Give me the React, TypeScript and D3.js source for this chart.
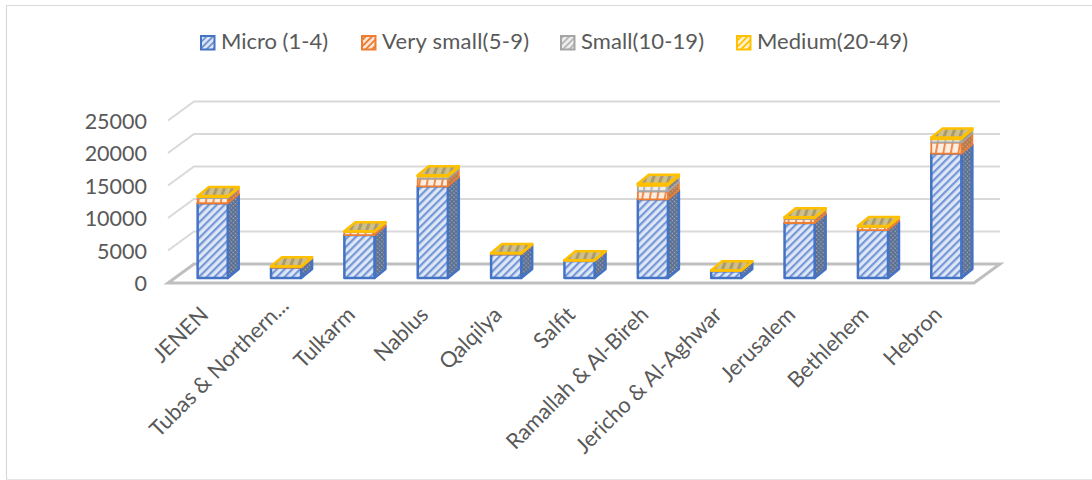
import React from "react";
import * as d3 from "d3";

// Establishments by governorate and size class
const governorates = [
  "JENEN",
  "Tubas & Northern...",
  "Tulkarm",
  "Nablus",
  "Qalqilya",
  "Salfit",
  "Ramallah & Al-Bireh",
  "Jericho & Al-Aghwar",
  "Jerusalem",
  "Bethlehem",
  "Hebron",
];
const micro = [11500, 1600, 6600, 14100, 3650, 2600, 12100, 1050, 8460, 7380, 19150];
const verySmall = [800, 100, 450, 1200, 120, 90, 1250, 80, 650, 450, 1700];
const small = [200, 60, 100, 350, 50, 40, 900, 40, 150, 100, 550];
const medium = [100, 40, 50, 150, 30, 20, 250, 30, 90, 70, 200];
const sizeClasses = ["Micro (1-4)", "Very small(5-9)", "Small(10-19)", "Medium(20-49)"];
const seriesValues = [micro, verySmall, small, medium];
const yTicks = [0, 5000, 10000, 15000, 20000, 25000];

const strokes = ["#4472c4", "#ed7d31", "#a5a5a5", "#ffc000"];
const legendX = [200, 361, 560, 736];
const legendTextWidth = [107, 147, 123, 151];

const WIDTH = 1092;
const HEIGHT = 480;
const DEPTH_X = 11;
const DEPTH_Y = 9;
const WALL_X = 26;
const WALL_Y = 19;
const INK = "#595959";

const rows = governorates.map((name, i) => {
  const row: Record<string, number | string> = { name };
  sizeClasses.forEach((s, k) => (row[s] = seriesValues[k][i]));
  return row;
});
const stacked = d3.stack<any>().keys(sizeClasses)(rows);

const x = d3.scaleBand<string>().domain(governorates).range([176, 983]).paddingInner(0.59).paddingOuter(0.295);
const y = d3.scaleLinear().domain([0, 25000]).range([278, 115.5]);
const floorY = 283;

function Hatch({ id, bg, fg, size, w, angle }: { id: string; bg: string; fg: string; size: number; w: number; angle: number }) {
  return (
    <pattern id={id} width={size} height={size} patternUnits="userSpaceOnUse" patternTransform={`rotate(${angle})`}>
      <rect width={size} height={size} fill={bg} />
      <rect width={w} height={size} fill={fg} />
    </pattern>
  );
}

function Dots({ id, bg, fg }: { id: string; bg: string; fg: string }) {
  return (
    <pattern id={id} width={3} height={3} patternUnits="userSpaceOnUse" patternTransform="rotate(45)">
      <rect width={3} height={3} fill={bg} />
      <circle cx={1.5} cy={1.5} r={0.8} fill={fg} />
    </pattern>
  );
}

export default function App() {
  const bw = x.bandwidth();
  return (
    <svg
      width={WIDTH}
      height={HEIGHT}
      style={{ position: "absolute", left: 0, top: 0, background: "#fff" }}
      fontFamily="Lato, sans-serif"
    >
      <defs>
        <Hatch id="front-0" bg="#dfe7f6" fg="#7397d6" size={5.5} w={2.2} angle={45} />
        <Hatch id="front-1" bg="#fdeee3" fg="#ef8a47" size={7.4} w={2} angle={10} />
        <Hatch id="front-2" bg="#ececec" fg="#b4b4b4" size={7.4} w={2} angle={10} />
        <Hatch id="front-3" bg="#fff2cc" fg="#ffc000" size={7.4} w={2} angle={10} />
        <Dots id="side-0" bg="#5c6f8f" fg="#a4afc0" />
        <Dots id="side-1" bg="#b5764a" fg="#e0ad88" />
        <Dots id="side-2" bg="#808080" fg="#b8b8b8" />
        <Dots id="side-3" bg="#a8913f" fg="#d4bd6a" />
        <Hatch id="top-3" bg="#cfc08a" fg="#a89a6c" size={7.4} w={3} angle={20} />
        <Hatch id="swatch-0" bg="#dbe5f5" fg="#6f94d4" size={4.5} w={1.8} angle={45} />
        <Hatch id="swatch-1" bg="#fbe5d6" fg="#ed7d31" size={4.5} w={1.8} angle={45} />
        <Hatch id="swatch-2" bg="#ededed" fg="#b5b5b5" size={4.5} w={1.8} angle={45} />
        <Hatch id="swatch-3" bg="#fff2cc" fg="#ffc000" size={4.5} w={1.8} angle={45} />
      </defs>

      {/* outer frame */}
      <path d={`M6.5 480V5.5H${WIDTH}`} fill="none" stroke="#d9d9d9" strokeWidth={1.2} />
      <line x1={6} x2={WIDTH} y1={479.5} y2={479.5} stroke="#e4e4e4" strokeWidth={1.2} />

      {/* legend */}
      {sizeClasses.map((s, k) => (
        <g key={s}>
          <rect
            x={legendX[k] + 1}
            y={36}
            width={13.5}
            height={13.5}
            fill={`url(#swatch-${k})`}
            stroke={strokes[k]}
            strokeWidth={2}
          />
          <text
            x={legendX[k] + 21}
            y={49}
            fontSize={22}
            fill={INK}
            textLength={legendTextWidth[k]}
            lengthAdjust="spacing"
          >
            {s}
          </text>
        </g>
      ))}

      {/* back wall gridlines with their slanted side-wall returns */}
      {yTicks.slice(1).map((t) => {
        const gy = y(t) - 14;
        return (
          <path
            key={t}
            d={`M${168} ${gy + WALL_Y}L${168 + WALL_X} ${gy}H1000`}
            fill="none"
            stroke="#d9d9d9"
            strokeWidth={2}
          />
        );
      })}

      {/* floor */}
      <path
        d={`M168 ${floorY}L${168 + WALL_X} ${floorY - WALL_Y}H1000L${1000 - WALL_X} ${floorY}Z`}
        fill="none"
        stroke="#bfbfbf"
        strokeWidth={3}
        strokeLinejoin="miter"
      />

      {/* y-axis labels */}
      {yTicks.map((t) => (
        <text key={t} x={147} y={y(t) + 13} fontSize={21.5} fill={INK} textAnchor="end">
          {t}
        </text>
      ))}

      {/* stacked 3-D columns */}
      {governorates.map((name, i) => {
        const left = x(name)!;
        const right = left + bw;
        return (
          <g key={name}>
            {stacked.map((layer, k) => {
              const y0 = y(layer[i][0]);
              const y1 = y(layer[i][1]);
              const isTop = k === stacked.length - 1;
              return (
                <g key={k} stroke={strokes[k]} strokeWidth={k === 0 || k === 3 ? 2.5 : 1.8} strokeLinejoin="round">
                  <path
                    d={`M${right} ${y0}L${right + DEPTH_X} ${y0 - DEPTH_Y}V${y1 - DEPTH_Y}L${right} ${y1}Z`}
                    fill={`url(#side-${k})`}
                  />
                  <rect x={left} y={y1} width={bw} height={y0 - y1} fill={`url(#front-${k})`} />
                  {isTop && (
                    <path
                      d={`M${left} ${y1}L${left + DEPTH_X} ${y1 - DEPTH_Y}H${right + DEPTH_X}L${right} ${y1}Z`}
                      fill="url(#top-3)"
                    />
                  )}
                </g>
              );
            })}
          </g>
        );
      })}

      {/* rotated category labels; a truncated label sits further along its slant */}
      {governorates.map((name) => {
        const truncated = name.endsWith("...");
        const ax = x(name)! + bw / 2 - 3 + (truncated ? 7 : 0);
        const ay = 316 - (truncated ? 9 : 0);
        return (
          <text
            key={name}
            transform={`translate(${ax},${ay}) rotate(-45)`}
            fontSize={21.8}
            fill={INK}
            textAnchor="end"
          >
            {name}
          </text>
        );
      })}
    </svg>
  );
}
